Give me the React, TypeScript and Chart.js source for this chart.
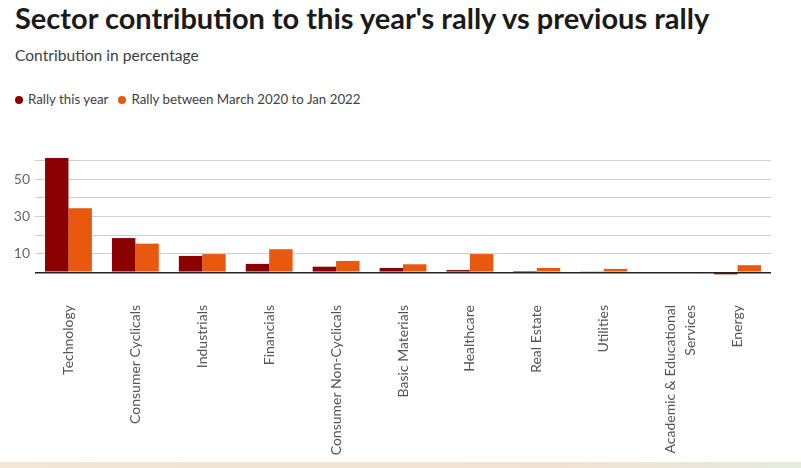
import React, { useEffect, useRef } from "react";
import { Chart, registerables } from "chart.js";

Chart.register(...registerables);

const categories: (string | string[])[] = [
  "Technology",
  "Consumer Cyclicals",
  "Industrials",
  "Financials",
  "Consumer Non-Cyclicals",
  "Basic Materials",
  "Healthcare",
  "Real Estate",
  "Utilities",
  ["Academic & Educational", "Services"],
  "Energy",
];
const rallyThisYear = [61.4, 18.4, 8.8, 4.5, 3.0, 2.3, 1.2, 0.7, 0.5, 0, -1.1];
const rallyPrevious = [34.4, 15.4, 9.8, 12.4, 6.1, 4.3, 9.8, 2.3, 1.8, 0, 3.8];
const gridTicks = [0, 10, 20, 30, 40, 50, 60];
const labelledTicks = [10, 30, 50];

const DARK = "#8b0000";
const ORANGE = "#e8580f";
const FONT = "Lato, 'Open Sans', sans-serif";

export default function App() {
  const ref = useRef<HTMLCanvasElement>(null);
  useEffect(() => {
    document.body.style.margin = "0";
    const chart = new Chart(ref.current!, {
      type: "bar",
      data: {
        labels: categories as any,
        datasets: [
          { label: "Rally this year", data: rallyThisYear, backgroundColor: DARK },
          { label: "Rally between March 2020 to Jan 2022", data: rallyPrevious, backgroundColor: ORANGE },
        ],
      },
      options: {
        animation: false,
        responsive: true,
        maintainAspectRatio: false,
        layout: { padding: { top: 17, right: 30, left: 0, bottom: 0 } },
        plugins: { legend: { display: false }, tooltip: { enabled: false } },
        datasets: { bar: { categoryPercentage: 0.7, barPercentage: 1.0 } },
        scales: {
          x: {
            grid: { display: false, drawTicks: false },
            border: { display: false },
            ticks: {
              minRotation: 90,
              maxRotation: 90,
              padding: 29,
              color: "#555",
              font: { family: FONT, size: 14, lineHeight: 1.45 },
              autoSkip: false,
            },
            afterFit: (s: any) => {
              s.height = 184;
            },
          },
          y: {
            min: -2,
            max: 62,
            afterBuildTicks: (s: any) => {
              s.ticks = gridTicks.map((v) => ({ value: v }));
            },
            afterFit: (s: any) => {
              s.width = 35;
            },
            border: { display: false },
            grid: {
              drawTicks: false,
              color: (c: any) => (c.tick && c.tick.value === 0 ? "#222" : "#cfcfcf"),
              lineWidth: (c: any) => (c.tick && c.tick.value === 0 ? 1.5 : 1),
            },
            ticks: {
              padding: 5,
              color: "#666",
              font: { family: FONT, size: 14 },
              callback: (v: any) => (labelledTicks.includes(Number(v)) ? String(v) : ""),
            },
          },
        },
      },
    });
    return () => chart.destroy();
  }, []);

  const dot = (color: string): React.CSSProperties => ({
    display: "inline-block",
    width: 8,
    height: 8,
    borderRadius: "50%",
    background: color,
    marginRight: 5,
    verticalAlign: "middle",
    position: "relative",
    top: -1,
  });

  return (
    <div style={{ position: "relative", width: 801, height: 468, fontFamily: FONT, background: "#fff", overflow: "hidden" }}>
      <div style={{ position: "absolute", left: 15, top: 0, fontSize: 29, fontWeight: 700, color: "#1a1a1a", whiteSpace: "nowrap" }}>
        Sector contribution to this year's rally vs previous rally
      </div>
      <div style={{ position: "absolute", left: 15, top: 46, fontSize: 15.6, color: "#404040", whiteSpace: "nowrap" }}>
        Contribution in percentage
      </div>
      <div style={{ position: "absolute", left: 15, top: 91, fontSize: 13.3, color: "#404040", whiteSpace: "nowrap" }}>
        <span style={dot(DARK)} />
        <span style={{ marginRight: 10 }}>Rally this year</span>
        <span style={dot(ORANGE)} />
        <span>Rally between March 2020 to Jan 2022</span>
      </div>
      <div style={{ position: "absolute", left: 0, top: 140, width: 801, height: 320 }}>
        <canvas ref={ref} />
      </div>
      <div
        style={{
          position: "absolute",
          left: 0,
          top: 462,
          width: 801,
          height: 6,
          background: "linear-gradient(to right, #f3e6d4, #f0e2cf 70%, #e6ebe0)",
        }}
      />
    </div>
  );
}
